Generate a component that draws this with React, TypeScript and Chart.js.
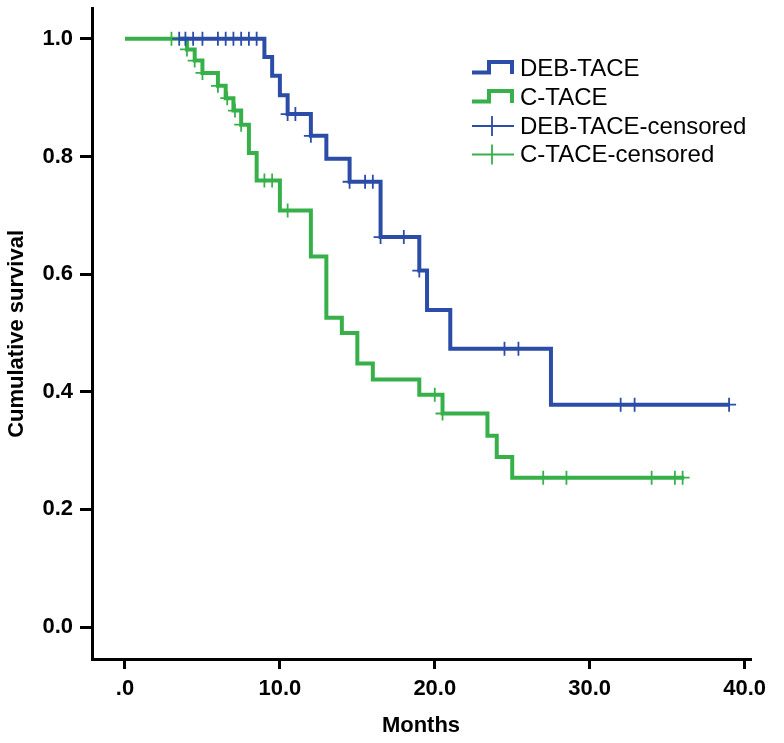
import React, { useEffect, useRef } from "react";
import { Chart, registerables } from "chart.js";

Chart.register(...registerables);

// DEB-TACE Kaplan-Meier steps
const debTimes = [3.5, 9.0, 9.5, 10.0, 10.5, 12.0, 13.0, 14.5, 16.5, 19.0, 19.5, 21.0, 27.5, 39.0];
const debSurv = [1.0, 0.969, 0.937, 0.904, 0.872, 0.835, 0.796, 0.757, 0.663, 0.606, 0.539, 0.473, 0.378, 0.378];
const debCensTimes = [3.5, 3.9, 4.4, 5.0, 6.0, 6.5, 7.0, 7.5, 8.0, 8.5, 10.5, 11.0, 12.0, 14.5, 15.5, 16.0, 16.5, 18.0, 19.0, 24.5, 25.4, 32.0, 32.9, 39.0];
const debCensSurv = [1, 1, 1, 1, 1, 1, 1, 1, 1, 1, 0.872, 0.872, 0.835, 0.757, 0.757, 0.757, 0.663, 0.663, 0.606, 0.473, 0.473, 0.378, 0.378, 0.378];

// C-TACE Kaplan-Meier steps
const cTimes = [0, 4.0, 4.5, 5.0, 6.0, 6.5, 7.0, 7.5, 8.0, 8.5, 10.0, 12.0, 13.0, 14.0, 15.0, 16.0, 19.0, 20.5, 23.4, 24.0, 25.0, 36.1];
const cSurv = [1.0, 0.982, 0.963, 0.942, 0.92, 0.899, 0.878, 0.854, 0.806, 0.759, 0.708, 0.63, 0.526, 0.5, 0.448, 0.421, 0.395, 0.363, 0.325, 0.289, 0.254, 0.254];
const cCensTimes = [3.0, 4.0, 4.5, 5.0, 6.0, 6.6, 7.1, 7.5, 9.0, 9.5, 10.5, 20.0, 20.5, 27.0, 28.5, 34.0, 35.5, 36.0];
const cCensSurv = [1, 0.982, 0.963, 0.942, 0.92, 0.899, 0.878, 0.854, 0.759, 0.759, 0.708, 0.395, 0.363, 0.254, 0.254, 0.254, 0.254, 0.254];

const xTicks = [0, 10, 20, 30, 40];
const yTicks = [0, 0.2, 0.4, 0.6, 0.8, 1.0];

const legendLabels = ["DEB-TACE", "C-TACE", "DEB-TACE-censored", "C-TACE-censored"];

const BLUE = "#2b4ca7";
const GREEN = "#37b04a";
const FONT = "'Liberation Sans', Arial, sans-serif";

const toPts = (xs: number[], ys: number[]) => xs.map((x, i) => ({ x, y: ys[i] }));

const legendPlugin = {
  id: "kmLegend",
  afterDraw(chart: any) {
    const ctx = chart.ctx;
    ctx.save();
    const x0 = 472;
    const x1 = 513;
    const tx = 520;
    const rows = [68, 97, 126, 154.5];
    const colors = [BLUE, GREEN, BLUE, GREEN];
    rows.forEach((y, i) => {
      ctx.strokeStyle = colors[i];
      if (i < 2) {
        ctx.lineWidth = 4;
        ctx.lineJoin = "miter";
        ctx.beginPath();
        ctx.moveTo(x0, y + 4.5);
        ctx.lineTo(x0 + 17, y + 4.5);
        ctx.lineTo(x0 + 17, y - 6);
        ctx.lineTo(x1 - 1, y - 6);
        ctx.lineTo(x1 - 1, y + 6);
        ctx.stroke();
      } else {
        ctx.lineWidth = 1.8;
        ctx.beginPath();
        ctx.moveTo(x0, y);
        ctx.lineTo(x1 + 1, y);
        ctx.moveTo(x0 + 20, y - 10);
        ctx.lineTo(x0 + 20, y + 10);
        ctx.stroke();
      }
      ctx.fillStyle = "#000";
      ctx.font = `24px ${FONT}`;
      ctx.textAlign = "left";
      ctx.textBaseline = "middle";
      ctx.fillText(legendLabels[i], tx, y + 1);
    });
    ctx.restore();
  },
};

export default function App() {
  const ref = useRef<HTMLCanvasElement | null>(null);
  useEffect(() => {
    document.body.style.margin = "0";
    const canvas = ref.current!;
    const lineCommon = {
      type: "line" as const,
      stepped: "before" as const,
      borderWidth: 4,
      pointRadius: 0,
      fill: false,
      tension: 0,
    };
    const censCommon = {
      type: "scatter" as const,
      pointStyle: "cross" as const,
      pointRadius: 7,
      pointBorderWidth: 1.8,
      showLine: false,
    };
    const chart = new Chart(canvas, {
      type: "line",
      data: {
        datasets: [
          { ...censCommon, label: "DEB-TACE-censored", data: toPts(debCensTimes, debCensSurv), borderColor: BLUE, backgroundColor: BLUE },
          { ...lineCommon, label: "DEB-TACE", data: toPts(debTimes, debSurv), borderColor: BLUE, backgroundColor: BLUE },
          { ...censCommon, label: "C-TACE-censored", data: toPts(cCensTimes, cCensSurv), borderColor: GREEN, backgroundColor: GREEN },
          { ...lineCommon, label: "C-TACE", data: toPts(cTimes, cSurv), borderColor: GREEN, backgroundColor: GREEN },
        ] as any,
      },
      options: {
        animation: false,
        responsive: false,
        maintainAspectRatio: false,
        layout: { padding: { top: 2, right: 34, left: 0, bottom: 0 } },
        plugins: { legend: { display: false }, tooltip: { enabled: false } },
        scales: {
          x: {
            type: "linear",
            min: -2.13,
            max: 40.35,
            afterBuildTicks: (s: any) => {
              s.ticks = xTicks.map((v) => ({ value: v }));
            },
            afterFit: (s: any) => {
              s.height = 84;
              s.paddingLeft = 0;
              s.paddingRight = 0;
            },
            ticks: {
              autoSkip: false,
              maxRotation: 0,
              padding: 7,
              color: "#000",
              font: { family: FONT, size: 22, weight: "bold" },
              callback: (v: any) => (Number(v) === 0 ? ".0" : Number(v).toFixed(1)),
            },
            grid: { display: true, drawOnChartArea: false, drawTicks: true, tickLength: 10, color: "#000", lineWidth: 3 },
            border: { display: true, color: "#000", width: 3 },
            title: {
              display: true,
              text: "Months",
              color: "#000",
              font: { family: FONT, size: 22, weight: "bold" },
              padding: { top: 4, bottom: 4 },
            },
          },
          y: {
            type: "linear",
            min: -0.0543,
            max: 1.051,
            afterBuildTicks: (s: any) => {
              s.ticks = yTicks.map((v) => ({ value: v }));
            },
            afterFit: (s: any) => {
              s.width = 92;
              s.paddingTop = 0;
              s.paddingBottom = 0;
            },
            ticks: {
              autoSkip: false,
              padding: 7,
              color: "#000",
              font: { family: FONT, size: 22, weight: "bold" },
              callback: (v: any) => Number(v).toFixed(1),
            },
            grid: { display: true, drawOnChartArea: false, drawTicks: true, tickLength: 12, color: "#000", lineWidth: 3 },
            border: { display: true, color: "#000", width: 3 },
            title: {
              display: true,
              text: "Cumulative survival",
              color: "#000",
              font: { family: FONT, size: 22, weight: "bold" },
              padding: { top: 4, bottom: 4 },
            },
          },
        },
      } as any,
      plugins: [legendPlugin],
    });
    return () => chart.destroy();
  }, []);
  return (
    <div style={{ width: 784, height: 743 }}>
      <canvas ref={ref} width={784} height={743} style={{ display: "block", width: 784, height: 743 }} />
    </div>
  );
}
